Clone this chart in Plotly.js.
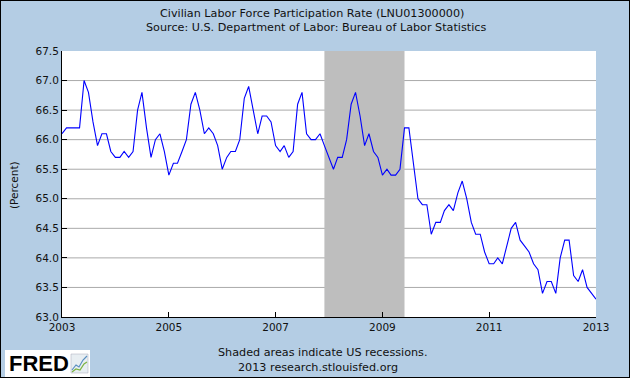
<!DOCTYPE html>
<html>
<head>
<meta charset="utf-8">
<script src="https://cdn.plot.ly/plotly-3.0.1.min.js"></script>
<style>
html,body{margin:0;padding:0;background:#B4CDE4;}
#chart{width:628px;height:376px;border:1px solid #000;}
</style>
</head>
<body>
<div id="chart"></div>
<script>
// Monthly values, Jan 2003 .. Jan 2013 (percent)
const startYear = 2003;
const rate = [
  // 2003
  66.1, 66.2, 66.2, 66.2, 66.2, 67.0, 66.8, 66.3, 65.9, 66.1, 66.1, 65.8,
  // 2004
  65.7, 65.7, 65.8, 65.7, 65.8, 66.5, 66.8, 66.2, 65.7, 66.0, 66.1, 65.8,
  // 2005
  65.4, 65.6, 65.6, 65.8, 66.0, 66.6, 66.8, 66.5, 66.1, 66.2, 66.1, 65.9,
  // 2006
  65.5, 65.7, 65.8, 65.8, 66.0, 66.7, 66.9, 66.5, 66.1, 66.4, 66.4, 66.3,
  // 2007
  65.9, 65.8, 65.9, 65.7, 65.8, 66.6, 66.8, 66.1, 66.0, 66.0, 66.1, 65.9,
  // 2008
  65.7, 65.5, 65.7, 65.7, 66.0, 66.6, 66.8, 66.4, 65.9, 66.1, 65.8, 65.7,
  // 2009
  65.4, 65.5, 65.4, 65.4, 65.5, 66.2, 66.2, 65.6, 65.0, 64.9, 64.9, 64.4,
  // 2010
  64.6, 64.6, 64.8, 64.9, 64.8, 65.1, 65.3, 65.0, 64.6, 64.4, 64.4, 64.1,
  // 2011
  63.9, 63.9, 64.0, 63.9, 64.2, 64.5, 64.6, 64.3, 64.2, 64.1, 63.9, 63.8,
  // 2012
  63.4, 63.6, 63.6, 63.4, 64.0, 64.3, 64.3, 63.7, 63.6, 63.8, 63.5, 63.4,
  // 2013
  63.3
];
const recessionStart = '2007-12-01';
const recessionEnd = '2009-06-01';
const yTicks = [63.0, 63.5, 64.0, 64.5, 65.0, 65.5, 66.0, 66.5, 67.0, 67.5];
const yGrid = [63.5, 64.0, 64.5, 65.0, 65.5, 66.0, 66.5, 67.0];
const xTickYears = ['2003', '2005', '2007', '2009', '2011', '2013'];
const titleLines = ['Civilian Labor Force Participation Rate (LNU01300000)',
                    'Source: U.S. Department of Labor: Bureau of Labor Statistics'];
const footerLines = ['Shaded areas indicate US recessions.', '2013 research.stlouisfed.org'];

const dates = rate.map((v, i) => {
  const y = startYear + Math.floor(i / 12);
  const m = (i % 12) + 1;
  return y + '-' + (m < 10 ? '0' + m : m) + '-01';
});

// layout geometry (div coords)
const W = 628, H = 376;
const L = 61, T = 50, PW = 534, PH = 266;
const px = x => (x - 1 - L) / PW;          // page x -> paper
const py = y => 1 - (y - 1 - T) / PH;      // page y -> paper

const font = "DejaVu Sans, Verdana, sans-serif";
const bg = '#B4CDE4';

const trace = {
  x: dates, y: rate, type: 'scatter', mode: 'lines',
  line: {color: '#0000FF', width: 1.1}, hoverinfo: 'x+y'
};

const annotations = [
  {text: titleLines[0], x: px(312), y: py(13)},
  {text: titleLines[1], x: px(316), y: py(28)},
  {text: footerLines[0], x: px(322), y: py(352)},
  {text: footerLines[1], x: px(318), y: py(367)}
].map(a => Object.assign({xref: 'paper', yref: 'paper', showarrow: false,
  xanchor: 'center', yanchor: 'middle', font: {family: font, size: 11.2, color: '#111'}}, a));

annotations.push({text: '(Percent)', xref: 'paper', yref: 'paper', x: px(14), y: py(185),
  textangle: -90, showarrow: false, xanchor: 'center', yanchor: 'middle',
  font: {family: font, size: 10.5, color: '#111'}});
annotations.push({text: '<b>FRED</b>', xref: 'paper', yref: 'paper', x: px(7), y: py(363),
  showarrow: false, xanchor: 'left', yanchor: 'middle',
  font: {family: 'Liberation Sans Narrow, Liberation Sans, Arial, sans-serif', size: 22, color: '#000'}});

const shapes = yGrid.map(v => ({type: 'line', xref: 'paper', yref: 'y', x0: 0, x1: 1, y0: v, y1: v,
  line: {color: '#AAAAAA', width: 1}, layer: 'below'}));

shapes.push(
  {type: 'rect', xref: 'x', yref: 'paper', x0: recessionStart, x1: recessionEnd, y0: 0, y1: 1,
   fillcolor: '#BEBEBE', line: {width: 0}, layer: 'below'},
  // FRED logo box
  {type: 'rect', xref: 'paper', yref: 'paper', x0: px(5), x1: px(90), y0: py(377), y1: py(350),
   fillcolor: '#FFFFFF', line: {width: 0}, layer: 'above'},
  // small logo chart icon
  {type: 'rect', xref: 'paper', yref: 'paper', x0: px(71), x1: px(88), y0: py(373), y1: py(354),
   fillcolor: '#E8EEF2', line: {width: 0.5, color: '#aab'}, layer: 'above'},
  {type: 'path', xref: 'paper', yref: 'paper', layer: 'above',
   path: 'M ' + px(72) + ' ' + py(370) + ' L ' + px(76) + ' ' + py(365) + ' L ' + px(79) + ' ' + py(367) +
         ' L ' + px(83) + ' ' + py(360) + ' L ' + px(87) + ' ' + py(356),
   line: {color: '#5a8fc0', width: 1.2}},
  {type: 'path', xref: 'paper', yref: 'paper', layer: 'above',
   path: 'M ' + px(72) + ' ' + py(372) + ' L ' + px(76) + ' ' + py(369) + ' L ' + px(80) + ' ' + py(370) +
         ' L ' + px(84) + ' ' + py(364) + ' L ' + px(87) + ' ' + py(362),
   line: {color: '#7cb342', width: 1.2}}
);

const layout = {
  width: W, height: H,
  margin: {l: L, r: W - L - PW, t: T, b: H - T - PH, pad: 0},
  paper_bgcolor: bg, plot_bgcolor: '#FFFFFF',
  showlegend: false,
  font: {family: font, size: 10.5, color: '#111'},
  xaxis: {
    type: 'date', range: ['2003-01-01', '2013-01-01'],
    tickmode: 'array', tickvals: xTickYears.map(y => y + '-01-01'), ticktext: xTickYears,
    ticks: 'inside', ticklen: 5, tickcolor: '#000', tickwidth: 1,
    showgrid: false, zeroline: false, showline: true, linecolor: '#000', linewidth: 1,
    tickfont: {family: font, size: 10.5, color: '#111'}, fixedrange: true
  },
  yaxis: {
    range: [63.0, 67.5], tickmode: 'array', tickvals: yTicks, ticktext: yTicks.map(v => v.toFixed(1)),
    ticks: 'inside', ticklen: 5, tickcolor: '#000', tickwidth: 1,
    showgrid: false,
    zeroline: false, showline: true, linecolor: '#000', linewidth: 1,
    tickfont: {family: font, size: 10.5, color: '#111'}, fixedrange: true
  },
  shapes: shapes,
  annotations: annotations
};

Plotly.newPlot('chart', [trace], layout, {displayModeBar: false, staticPlot: true});
</script>
</body>
</html>
